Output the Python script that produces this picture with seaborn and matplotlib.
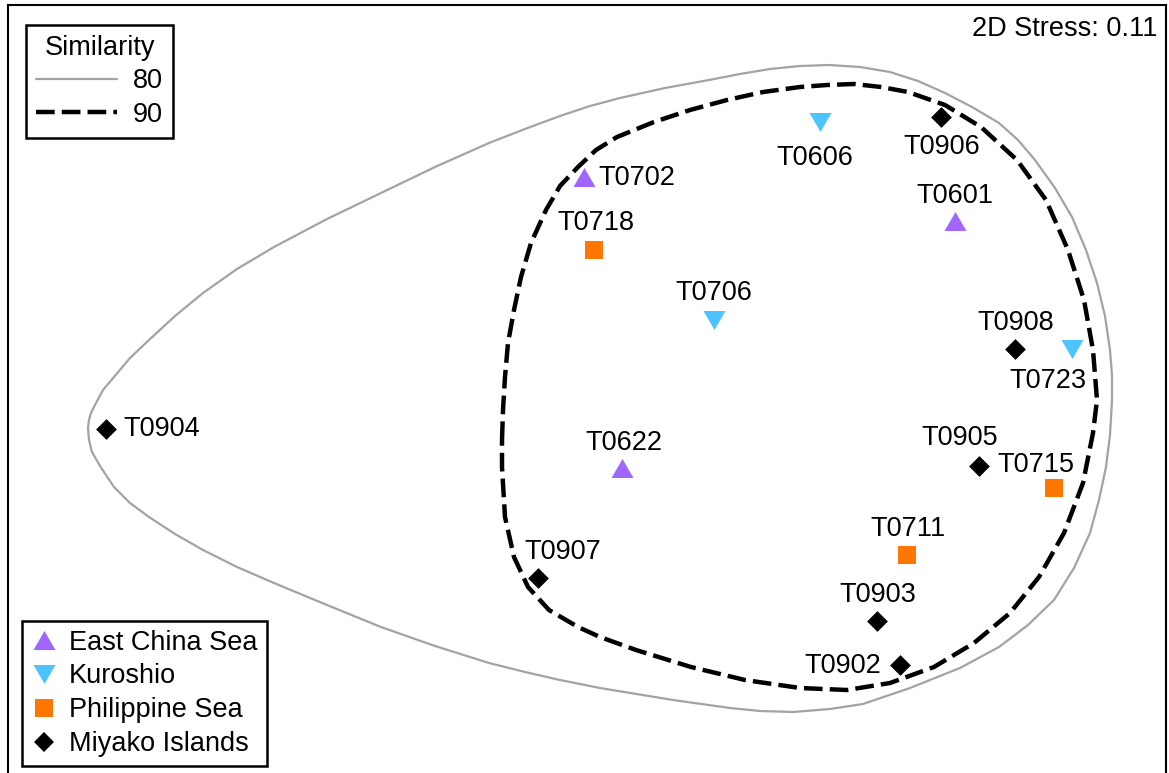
import numpy as np
import pandas as pd
import matplotlib
matplotlib.use("Agg")
import matplotlib.pyplot as plt
import seaborn as sns
from matplotlib.lines import Line2D

# ---------------- data (NMDS coordinates) ----------------
samples = ["T0702", "T0601", "T0622",
           "T0606", "T0706", "T0723",
           "T0718", "T0715", "T0711",
           "T0904", "T0906", "T0908", "T0905", "T0907", "T0903", "T0902"]
region = ["East China Sea"] * 3 + ["Kuroshio"] * 3 + ["Philippine Sea"] * 3 + ["Miyako Islands"] * 7
mds1 = [584, 955, 622,
        820, 714, 1072,
        594, 1054, 907,
        106, 941, 1015, 979, 538, 877, 900]
mds2 = [177, 221, 468,
        122, 320, 349,
        250, 488, 555,
        429, 117, 349, 466, 578, 621, 665]

regions = ["East China Sea", "Kuroshio", "Philippine Sea", "Miyako Islands"]
region_colors = ["#a066ff", "#4dc3ff", "#ff7700", "#000000"]

# similarity contours (80 % and 90 %)
contour80_x = [88, 89, 91, 96, 103, 114, 130, 149, 175, 203, 237, 274, 327, 381, 435, 489, 525, 560,
               590, 620, 665, 709, 740, 770, 800, 829, 860, 890, 918, 945, 972, 999, 1018, 1035,
               1055, 1072, 1086, 1097, 1105, 1110, 1112, 1112, 1110, 1106, 1099, 1090, 1074, 1054,
               1028, 999, 960, 910, 863, 830, 793, 760, 730, 673, 600, 560, 525, 489, 435, 381,
               327, 274, 237, 203, 175, 149, 130, 114, 100, 92, 89, 88]
contour80_y = [428, 420, 413, 403, 390, 377, 358, 340, 316, 293, 269, 247, 219, 193, 167, 143, 129, 116,
               106, 98, 88, 80, 74, 69, 66, 65, 67, 72, 81, 93, 107, 123, 140, 160,
               188, 217, 250, 283, 316, 350, 375, 400, 435, 467, 500, 533, 568, 600,
               625, 647, 668, 688, 704, 709, 712, 711, 708, 700, 688, 680, 672, 663, 646, 627,
               605, 583, 567, 550, 534, 517, 503, 487, 466, 452, 440, 428]
contour90_x = [502, 503, 505, 508, 514, 521, 531, 546, 560, 578, 596, 617, 654, 690, 727, 763, 800,
               827, 854, 881, 908, 945, 981, 1017, 1046, 1068, 1084, 1093, 1097, 1093, 1083, 1064, 1039,
               1010, 974, 934, 890, 847, 800, 745, 691, 636, 600, 578, 549, 528, 514, 505, 502, 502]
contour90_y = [440, 410, 377, 343, 310, 277, 243, 210, 186, 167, 150, 137, 122, 110, 100, 92, 87,
               85, 84, 87, 92, 105, 127, 160, 200, 250, 300, 350, 400, 433, 483, 533, 577,
               613, 643, 667, 683, 690, 688, 680, 667, 650, 637, 627, 610, 587, 557, 517, 467, 440]
similarity_levels = ["80", "90"]
stress_text = "2D Stress: 0.11"

df = pd.DataFrame({"Sample": samples, "Region": region, "MDS1": mds1, "MDS2": mds2})

# ---------------- styles ----------------
tri_up = [(-1, -0.866), (1, -0.866), (0, 0.866)]
tri_down = [(-1, 0.866), (1, 0.866), (0, -0.866)]
region_markers = {"East China Sea": tri_up, "Kuroshio": tri_down,
                  "Philippine Sea": "s", "Miyako Islands": "D"}
region_sizes = {"East China Sea": 250, "Kuroshio": 250, "Philippine Sea": 175, "Miyako Islands": 112}

label_style = {  # offset in pixels (dx, dy up), horizontal alignment
    "T0702": (14, 2, "left"), "T0601": (0, 28, "center"), "T0622": (2, 28, "center"),
    "T0606": (-5, -33, "center"), "T0706": (0, 30, "center"), "T0723": (-24, -29, "center"),
    "T0718": (2, 30, "center"), "T0715": (-18, 26, "center"), "T0711": (1, 29, "center"),
    "T0904": (17, 3, "left"), "T0906": (1, -27, "center"), "T0908": (1, 29, "center"),
    "T0905": (-19, 31, "center"), "T0907": (25, 29, "center"), "T0903": (1, 29, "center"),
    "T0902": (-57, 2, "center"),
}

FS = 19.5
DASH_LW = 3.2
DASHES = (4.2, 1.6)
GRAY = "#a3a3a3"

sns.set_theme(style="white")
plt.rcParams['font.family'] = ['Liberation Sans', 'DejaVu Sans']
plt.rcParams['text.color'] = 'black'
plt.rcParams['legend.labelcolor'] = 'black'

W, H = 1169, 773
fig = plt.figure(figsize=(W / 100, H / 100), dpi=100)
ax = fig.add_axes([8 / W, -2 / H, (1166 - 8) / W, (768 + 2) / H])
ax.set_xlim(8, 1166)
ax.set_ylim(775, 5)

# contours
ax.plot(contour80_x, contour80_y, color=GRAY, lw=1.6, zorder=1,
        solid_joinstyle="round", solid_capstyle="round")
ax.plot(contour90_x, contour90_y, color="black", lw=DASH_LW, dashes=DASHES, zorder=2,
        dash_joinstyle="round")

# points
for reg, col in zip(regions, region_colors):
    sub = df[df["Region"] == reg]
    sns.scatterplot(data=sub, x="MDS1", y="MDS2", marker=region_markers[reg],
                    s=region_sizes[reg], color=col, linewidth=0, ax=ax, zorder=3, legend=False)

# labels
for name, x, y in zip(samples, mds1, mds2):
    dx, dy, ha = label_style[name]
    ax.annotate(name, (x, y), xytext=(dx, dy - 3), textcoords="offset pixels",
                ha=ha, va="center", fontsize=FS, color="black", zorder=4)

ax.set_xticks([])
ax.set_yticks([])
ax.set_xlabel("")
ax.set_ylabel("")
for side, sp in ax.spines.items():
    sp.set_color("black")
    sp.set_linewidth(1.5)
ax.spines["bottom"].set_visible(False)

fig.text(1158 / W, 1 - 29 / H, stress_text, ha="right", va="center", fontsize=FS, color="black")

# similarity legend
sim_handles = [Line2D([], [], color=GRAY, lw=1.6),
               Line2D([], [], color="black", lw=DASH_LW, dashes=DASHES)]
leg1 = ax.legend(sim_handles, similarity_levels, title="Similarity", loc="upper left",
                 bbox_to_anchor=(26 / W, 1 - 25 / H), bbox_transform=fig.transFigure,
                 borderaxespad=0, fancybox=False, edgecolor="black", framealpha=1,
                 handlelength=3.0, handletextpad=0.6, borderpad=0.36, labelspacing=0.28,
                 fontsize=FS, title_fontsize=FS)
leg1.get_frame().set_linewidth(1.8)
leg1.get_title().set_color("black")
ax.add_artist(leg1)

# region legend
reg_handles = [Line2D([], [], ls="none", marker=region_markers[r], markersize=np.sqrt(region_sizes[r]),
                      color=c, markeredgewidth=0) for r, c in zip(regions, region_colors)]
leg2 = ax.legend(reg_handles, regions, loc="lower left",
                 bbox_to_anchor=(22 / W, 1 - 766 / H), bbox_transform=fig.transFigure,
                 borderaxespad=0, fancybox=False, edgecolor="black", framealpha=1,
                 handlelength=1.0, handletextpad=0.41, borderpad=0.33, labelspacing=0.29,
                 fontsize=FS)
leg2.get_frame().set_linewidth(1.8)

fig.savefig("out.png", dpi=100)
